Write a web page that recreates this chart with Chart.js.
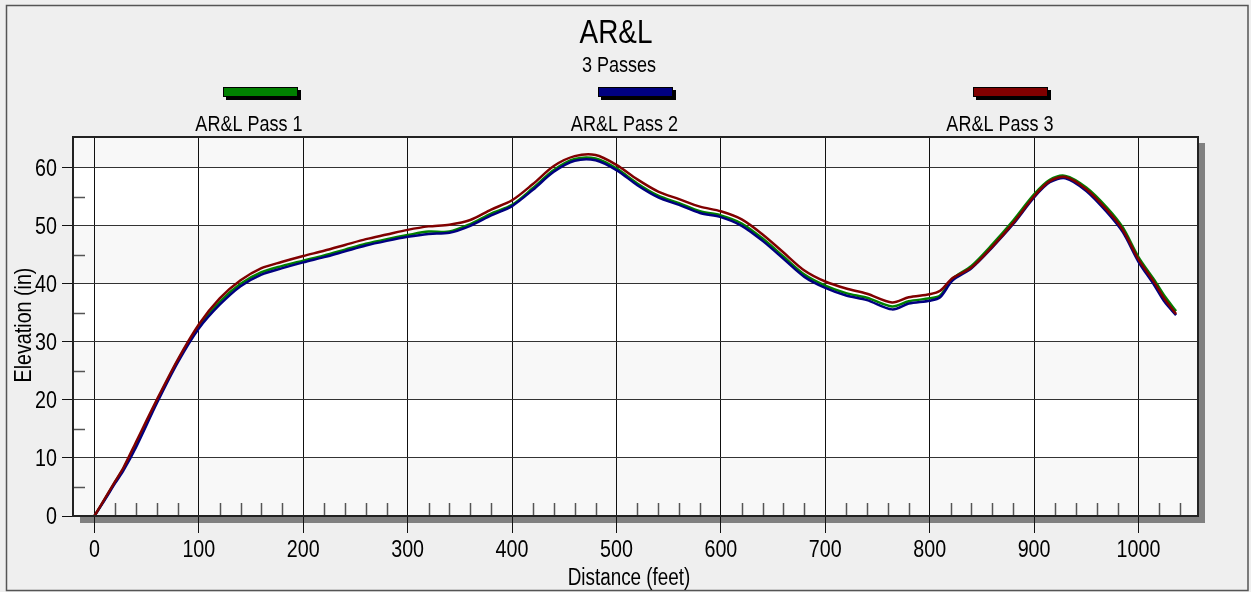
<!DOCTYPE html>
<html>
<head>
<meta charset="utf-8">
<title>AR&amp;L</title>
<script src="https://cdn.jsdelivr.net/npm/chart.js@4.4.1/dist/chart.umd.min.js"></script>
<style>
  html, body { margin: 0; padding: 0; background: #efefef; }
  canvas { display: block; }
</style>
</head>
<body>
<canvas id="chart" width="1251" height="592"></canvas>
<script>
// distance along the path (feet)
const distance = [0, 10, 20, 28, 40, 60, 80, 100, 120, 140, 160, 180, 200, 220, 240, 260, 280, 300,
  320, 340, 360, 380, 400, 420, 440, 460, 480, 500, 520, 540, 560, 580, 600, 620, 640, 660, 680,
  700, 720, 740, 764, 780, 800, 810, 822, 840, 860, 880, 900, 915, 930, 950, 970, 985, 1000,
  1015, 1025, 1036];

// elevation (in) for each pass
const pass1 = [0, 2.9, 5.9, 8.2, 12.4, 19.8, 26.8, 32.6, 36.9, 40.0, 42.0, 43.1, 44.0, 44.9, 45.9,
  46.9, 47.7, 48.4, 49.0, 49.0, 50.3, 52.1, 53.6, 56.5, 59.6, 61.5, 61.6, 59.9, 57.3, 55.2, 53.9,
  52.5, 51.8, 50.4, 47.8, 44.7, 41.6, 39.7, 38.4, 37.6, 36.1, 37.0, 37.5, 38.0, 40.9, 43.1, 46.8,
  50.9, 55.4, 57.9, 58.6, 56.6, 53.1, 49.7, 44.6, 40.7, 37.9, 35.3];
const pass2 = [0, 2.8, 5.7, 7.9, 11.9, 19.5, 26.5, 32.3, 36.4, 39.6, 41.6, 42.7, 43.7, 44.6, 45.6,
  46.6, 47.4, 48.1, 48.6, 48.8, 50.0, 51.8, 53.4, 56.2, 59.3, 61.2, 61.3, 59.6, 57.0, 54.9, 53.6,
  52.2, 51.5, 50.0, 47.4, 44.3, 41.2, 39.3, 38.0, 37.2, 35.6, 36.6, 37.1, 37.7, 40.6, 42.7, 46.3,
  50.3, 54.9, 57.5, 58.2, 56.0, 52.3, 48.9, 43.8, 39.8, 36.9, 34.6];
const pass3 = [0, 3.0, 6.0, 8.4, 12.8, 20.1, 27.0, 33.0, 37.5, 40.6, 42.7, 43.8, 44.8, 45.7, 46.7,
  47.7, 48.5, 49.3, 49.9, 50.2, 51.0, 52.8, 54.4, 57.2, 60.3, 62.0, 62.2, 60.5, 58.0, 55.9, 54.6,
  53.3, 52.5, 51.1, 48.5, 45.4, 42.3, 40.4, 39.2, 38.3, 36.8, 37.7, 38.2, 38.8, 41.0, 42.8, 46.4,
  50.5, 55.1, 57.7, 58.4, 56.3, 52.7, 49.3, 44.2, 40.3, 37.4, 34.8];

const seriesNames = ["AR&L Pass 1", "AR&L Pass 2", "AR&L Pass 3"];
const seriesColors = ["#008000", "#000080", "#800000"];
const xTicks = [0, 100, 200, 300, 400, 500, 600, 700, 800, 900, 1000];
const yTicks = [0, 10, 20, 30, 40, 50, 60];

const FONT = "'Liberation Sans', Arial, sans-serif";
const NARROW = 0.82; // squeeze text horizontally to get a narrow face

const toPoints = (vals) => vals.map((v, i) => ({ x: distance[i], y: v }));

// draw narrow text: x,y are anchor, align left/center/right
function narrowText(ctx, text, x, y, size, align = "center", baseline = "alphabetic") {
  ctx.save();
  ctx.font = size + "px " + FONT;
  ctx.textAlign = align;
  ctx.textBaseline = baseline;
  ctx.translate(x, y);
  ctx.scale(NARROW, 1);
  ctx.fillText(text, 0, 0);
  ctx.restore();
}

const frame = {
  id: "frame",
  beforeDraw(chart) {
    const { ctx, chartArea: a, scales } = chart;
    ctx.save();
    ctx.fillStyle = "#efefef";
    ctx.fillRect(0, 0, chart.width, chart.height);
    ctx.strokeStyle = "#555";
    ctx.lineWidth = 1.5;
    ctx.strokeRect(6.5, 5.5, 1241.5, 585);
    // drop shadow of the plot
    ctx.fillStyle = "#808080";
    ctx.fillRect(a.left + 7, a.top + 6, a.width, a.height + 1);
    // alternating bands
    const y = scales.y;
    for (let v = 0, i = 0; v < y.max; v += 10, i++) {
      const top = y.getPixelForValue(Math.min(v + 10, y.max));
      const bot = y.getPixelForValue(v);
      ctx.fillStyle = i % 2 === 0 ? "#f8f8f8" : "#ffffff";
      ctx.fillRect(a.left, top, a.width, bot - top);
    }
    ctx.restore();
  },
  beforeDatasetsDraw(chart) {
    const { ctx, chartArea: a, scales } = chart;
    ctx.save();
    ctx.strokeStyle = "#555";
    ctx.lineWidth = 1.5;
    ctx.beginPath();
    for (let d = 20; d <= 1040; d += 20) {
      if (d % 100 === 0) continue;
      const px = Math.round(scales.x.getPixelForValue(d)) + 0.5;
      ctx.moveTo(px, a.bottom);
      ctx.lineTo(px, a.bottom - 13);
    }
    for (let v = 5; v < 65; v += 10) {
      const py = Math.round(scales.y.getPixelForValue(v)) + 0.5;
      ctx.moveTo(a.left, py);
      ctx.lineTo(a.left + 12, py);
    }
    ctx.stroke();
    ctx.restore();
  },
  afterDraw(chart) {
    const { ctx, chartArea: a, scales } = chart;
    ctx.save();
    ctx.strokeStyle = "#222";
    ctx.lineWidth = 2;
    ctx.strokeRect(a.left, a.top, a.width, a.height);
    ctx.fillStyle = "#000";

    // tick labels
    xTicks.forEach((v) => narrowText(ctx, String(v), scales.x.getPixelForValue(v), 557, 24));
    yTicks.forEach((v) => narrowText(ctx, String(v), 57, scales.y.getPixelForValue(v) + 8, 24, "right"));

    narrowText(ctx, "AR&L", 616, 43, 34);
    narrowText(ctx, "3 Passes", 619, 72, 22);

    // legend
    seriesNames.forEach((name, i) => {
      const bx = 223 + i * 375;
      ctx.fillStyle = "#000";
      ctx.fillRect(bx + 3, 90, 75, 10);
      ctx.fillStyle = seriesColors[i];
      ctx.fillRect(bx, 87, 75, 10);
      ctx.strokeStyle = "#000";
      ctx.lineWidth = 1;
      ctx.strokeRect(bx + 0.5, 87.5, 74, 9);
      ctx.fillStyle = "#000";
      narrowText(ctx, name, 249 + i * 375.5, 131, 22);
    });

    // axis titles
    narrowText(ctx, "Distance (feet)", 629, 585, 23);
    ctx.translate(31, 325);
    ctx.rotate(-Math.PI / 2);
    narrowText(ctx, "Elevation (in)", 0, 0, 24);
    ctx.restore();
  }
};

new Chart(document.getElementById("chart"), {
  type: "line",
  data: {
    datasets: [pass1, pass2, pass3].map((vals, i) => ({
      label: seriesNames[i],
      data: toPoints(vals),
      borderColor: seriesColors[i],
      backgroundColor: seriesColors[i],
      borderWidth: 2.5,
      pointRadius: 0,
      tension: 0.3,
      fill: false,
      order: 2 - i
    }))
  },
  options: {
    responsive: false,
    animation: false,
    devicePixelRatio: 1,
    layout: { padding: { left: 0, top: 137, right: 53, bottom: 0 } },
    plugins: {
      legend: { display: false },
      title: { display: false },
      tooltip: { enabled: false }
    },
    scales: {
      x: {
        type: "linear",
        min: -20.5,
        max: 1057,
        afterFit: (s) => { s.height = 76; },
        afterBuildTicks: (s) => { s.ticks = xTicks.map((v) => ({ value: v })); },
        ticks: { display: false, includeBounds: false },
        grid: { color: "#111", lineWidth: 1, tickLength: 17, tickColor: "#111" },
        border: { display: true, color: "#000", width: 2 }
      },
      y: {
        type: "linear",
        min: 0,
        max: 65.3,
        afterFit: (s) => { s.width = 73; },
        afterBuildTicks: (s) => { s.ticks = yTicks.map((v) => ({ value: v })); },
        ticks: { display: false, includeBounds: false },
        grid: { color: "#333", lineWidth: 1, tickLength: 11, tickColor: "#111" },
        border: { display: true, color: "#000", width: 2 }
      }
    }
  },
  plugins: [frame]
});
</script>
</body>
</html>
